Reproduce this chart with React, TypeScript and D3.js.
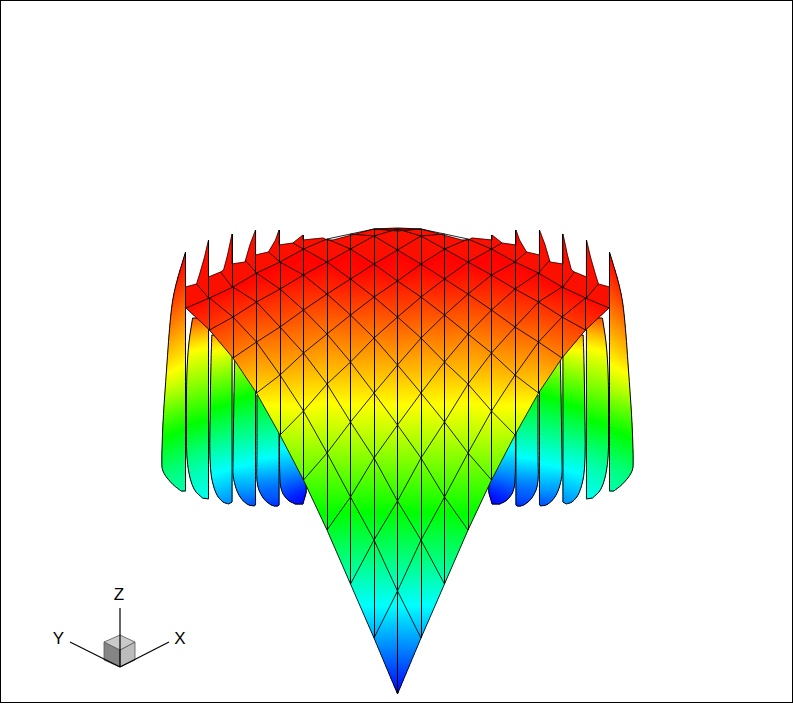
import React from "react";
import * as d3 from "d3";

// Surface heights, one list per lattice column (distance from the centre column), front to back
const heightColumns: number[][] = [
  [0, 103, 193, 269, 329, 377, 413, 444, 465, 463],
  [56, 154, 236, 301, 356, 397, 430, 458, 465],
  [110, 197, 272, 332, 379, 415, 445, 460],
  [164, 241, 310, 360, 400, 432, 455],
  [214, 283, 341, 384, 419, 445],
  [259, 319, 367, 405, 432],
  [301, 352, 392, 421],
  [336, 377, 407],
  [364, 396],
  [386],
];
// Contour variable at the same lattice points
const valueColumns: number[][] = [
  [0, 0.29, 0.53, 0.71, 0.83, 0.92, 0.98, 1, 1, 1],
  [0.16, 0.43, 0.63, 0.775, 0.875, 0.95, 1, 1, 1],
  [0.31, 0.54, 0.715, 0.835, 0.92, 0.985, 1, 1],
  [0.46, 0.64, 0.79, 0.88, 0.955, 1, 1],
  [0.58, 0.74, 0.855, 0.93, 0.99, 1],
  [0.68, 0.82, 0.91, 0.975, 1],
  [0.78, 0.885, 0.96, 1],
  [0.87, 0.945, 0.995],
  [0.94, 0.99],
  [0.99],
];
// Fins below the rim: [uLeft, hLeft, uRight, hRight, vLeft, vRight], top to bottom
const fin0 = [
  [-9.02, 442, -9.02, 442, 1, 1], [-9.51, 404, -9.02, 404, 0.96, 0.93], [-9.68, 374, -9.02, 374, 0.89, 0.86],
  [-9.85, 317, -9.02, 317, 0.75, 0.72], [-9.98, 274, -9.02, 274, 0.56, 0.53], [-10.04, 232, -9.02, 232, 0.42, 0.39],
  [-10.0, 222, -9.02, 222, 0.39, 0.36], [-9.6, 210, -9.02, 208, 0.36, 0.34], [-9.21, 203, -9.02, 203, 0.33, 0.33],
];
const fin1 = [
  [-8.72, 376, -8.04, 376, 0.92, 0.9], [-8.9, 349, -8.04, 349, 0.77, 0.75], [-8.98, 314, -8.04, 314, 0.66, 0.64],
  [-8.98, 274, -8.04, 274, 0.52, 0.5], [-8.98, 232, -8.04, 232, 0.36, 0.33], [-8.72, 205, -8.04, 205, 0.29, 0.28],
  [-8.3, 196, -8.04, 195, 0.27, 0.27],
];
const fin2 = [
  [-7.9, 359, -7.04, 359, 0.84, 0.82], [-7.93, 339, -7.04, 339, 0.73, 0.7], [-7.97, 291, -7.04, 291, 0.52, 0.5],
  [-8.0, 226, -7.04, 226, 0.27, 0.25], [-7.78, 202, -7.04, 202, 0.19, 0.17], [-7.47, 192, -7.04, 195, 0.15, 0.15],
  [-7.18, 190, -7.04, 192, 0.14, 0.14],
];
const fin3 = [
  [-6.92, 339, -6.04, 339, 0.72, 0.68], [-6.96, 301, -6.04, 301, 0.52, 0.5], [-7.0, 231, -6.04, 231, 0.27, 0.25],
  [-7.01, 217, -6.04, 217, 0.2, 0.2], [-6.79, 199, -6.04, 199, 0.13, 0.13], [-6.4, 189, -6.04, 194, 0.09, 0.09],
  [-6.08, 188, -6.04, 190, 0.08, 0.08],
];
const fin4 = [
  [-5.98, 299, -5.04, 299, 0.5, 0.47], [-5.98, 254, -5.04, 254, 0.33, 0.32], [-5.98, 237, -5.04, 237, 0.26, 0.25],
  [-6.0, 209, -5.04, 209, 0.12, 0.11], [-5.72, 195, -5.04, 195, 0.08, 0.08], [-5.34, 188, -5.04, 192, 0.05, 0.05],
  [-5.08, 188, -5.04, 189, 0.05, 0.05],
];
const fin5 = [
  [-5.02, 259, -4.02, 259, 0.31, 0.3], [-5.02, 239, -4.02, 239, 0.22, 0.22], [-5.02, 224, -4.02, 224, 0.16, 0.15],
  [-4.98, 204, -3.85, 204, 0.08, 0.03], [-4.7, 194, -3.95, 196, 0.03, 0.01], [-4.36, 190, -4.02, 190, 0.02, 0.01],
];
const fins = [fin0, fin1, fin2, fin3, fin4, fin5];

// Back rim silhouette, left half, outer corner to the centre: [u, h]
const rimOutline = [
  [-9.02, 386], [-9.02, 407], [-8.55, 410], [-8.43, 419], [-8.21, 437], [-8.04, 454], [-8.04, 417], [-7.53, 422],
  [-7.4, 424], [-7.23, 439], [-7.04, 460], [-7.04, 430], [-6.49, 432], [-6.28, 449], [-6.04, 464], [-6.04, 439],
  [-5.49, 442], [-5.19, 454], [-5.04, 464], [-5.04, 449], [-4.45, 451], [-4.02, 459], [-4.02, 454], [-3.17, 456],
  [-3.0, 454], [-2.74, 454], [-1.47, 462], [-1.0, 465], [0, 466],
];
const rimCentre = [0, 330];
// Creases from each valley of the rim to the back edge of the surface: [uA, hA, uB, hB]
const creases = [
  [-8.55, 410, -8.04, 396], [-7.53, 422, -7.04, 407], [-6.49, 434, -6.0, 421],
  [-5.49, 442, -5.0, 432], [-4.45, 451, -4.0, 445],
];
// Spikes, vertical edges from tip to the back edge: [u, hTip, hBase]
const spikes = [[-9.02, 442, 386], [-8.04, 454, 396], [-7.04, 460, 407], [-6.04, 464, 421], [-5.04, 464, 432], [-4.02, 459, 445]];

const rainbowStops = ["#0000ff", "#00ffff", "#00ff00", "#ffff00", "#ff0000"];
const rainbowDomain = [0, 0.25, 0.5, 0.75, 1];
const triadAxes = [
  { label: "Z", x2: 120, y2: 608, tx: 119, ty: 600 },
  { label: "Y", x2: 70, y2: 642, tx: 58.5, ty: 644 },
  { label: "X", x2: 169, y2: 642, tx: 180, ty: 644 },
];

const W = 793, H = 704;
const xScale = d3.scaleLinear().domain([0, 1]).range([397.5, 421]);
const yScale = d3.scaleLinear().domain([0, 694]).range([694, 0]);
const colour = d3.scaleLinear<string>().domain(rainbowDomain).range(rainbowStops).interpolate(d3.interpolateRgb as any);
const BANDS = 255;

type P = { x: number; y: number; v: number };
const pt = (u: number, h: number, v: number): P => ({ x: xScale(u), y: yScale(h), v });

// Rounds the fin profiles (corner cutting), the way a curve generator would; the ends stay put.
function rounded(rows: number[][], passes = 2): number[][] {
  let cur = rows;
  for (let p = 0; p < passes; p++) {
    const next: number[][] = [cur[0]];
    d3.pairs(cur).forEach(([a, b]) => {
      next.push(a.map((v, i) => v * 0.75 + b[i] * 0.25));
      next.push(a.map((v, i) => v * 0.25 + b[i] * 0.75));
    });
    next.push(cur[cur.length - 1]);
    cur = next;
  }
  return cur;
}

function clipBand(tri: P[], lo: number, hi: number): P[] {
  const clip = (poly: P[], limit: number, keepAbove: boolean) => {
    const out: P[] = [];
    for (let i = 0; i < poly.length; i++) {
      const a = poly[i], b = poly[(i + 1) % poly.length];
      const aIn = keepAbove ? a.v >= limit : a.v <= limit;
      const bIn = keepAbove ? b.v >= limit : b.v <= limit;
      if (aIn) out.push(a);
      if (aIn !== bIn) {
        const t = (limit - a.v) / (b.v - a.v);
        out.push({ x: a.x + (b.x - a.x) * t, y: a.y + (b.y - a.y) * t, v: limit });
      }
    }
    return out;
  };
  const first = clip(tri, lo, true);
  return first.length ? clip(first, hi, false) : [];
}

function bandPaths(tris: P[][]): { d: string; fill: string }[] {
  const buckets: string[][] = d3.range(BANDS).map(() => []);
  tris.forEach((tri) => {
    const ext = d3.extent(tri, (p) => p.v) as [number, number];
    const b0 = Math.max(0, Math.floor(ext[0] * BANDS));
    const b1 = Math.min(BANDS - 1, Math.floor(ext[1] * BANDS));
    for (let b = b0; b <= b1; b++) {
      const poly = clipBand(tri, b / BANDS, (b + 1) / BANDS);
      if (poly.length >= 3) {
        buckets[b].push("M" + poly.map((p) => `${p.x.toFixed(2)},${p.y.toFixed(2)}`).join("L") + "Z");
      }
    }
  });
  return buckets
    .map((parts, b) => ({ d: parts.join(""), fill: colour((b + 0.5) / BANDS) }))
    .filter((s) => s.d);
}

function vertex(i: number, j: number): P {
  const k = Math.abs(i - j), m = Math.min(i, j);
  return pt(i - j, heightColumns[k][m], valueColumns[k][m]);
}

const N = heightColumns.length;
const surfaceTris: P[][] = [];
const meshEdges: [P, P][] = [];
const verticals: [P, P][] = [];
d3.range(N).forEach((i) =>
  d3.range(N).forEach((j) => {
    if (i + 1 < N) meshEdges.push([vertex(i, j), vertex(i + 1, j)]);
    if (j + 1 < N) meshEdges.push([vertex(i, j), vertex(i, j + 1)]);
    if (i + 1 < N && j + 1 < N) {
      const a = vertex(i, j), b = vertex(i + 1, j), c = vertex(i + 1, j + 1), e = vertex(i, j + 1);
      surfaceTris.push([a, b, c], [a, c, e]);
      verticals.push([a, c]);
    }
  })
);

function finTris(fin: number[][], side: number): P[][] {
  const out: P[][] = [];
  d3.pairs(rounded(fin)).forEach(([s, t]) => {
    const a = pt(side * s[0], s[1], s[4]), b = pt(side * s[2], s[3], s[5]);
    const c = pt(side * t[2], t[3], t[5]), e = pt(side * t[0], t[1], t[4]);
    out.push([a, b, c], [a, c, e]);
  });
  return out;
}
const finOutline = (fin: number[][], side: number) => {
  const rows = rounded(fin);
  const left = rows.map((s) => [xScale(side * s[0]), yScale(s[1])] as [number, number]);
  const right = rows.map((s) => [xScale(side * s[2]), yScale(s[3])] as [number, number]).reverse();
  return d3.line()([...left, ...right]) + "Z";
};

const rimPts = (side: number) =>
  rimOutline.map((r) => [xScale(side * r[0]), yScale(r[1])] as [number, number]);
const rimLine = d3.line();

const Layer = ({ tris }: { tris: P[][] }) => (
  <g shapeRendering="crispEdges">
    {bandPaths(tris).map((s, i) => (
      <path key={i} d={s.d} fill={s.fill} stroke={s.fill} strokeWidth={0.5} />
    ))}
  </g>
);

export default function App() {
  const sides = [1, -1]; // +1 keeps the left half, -1 mirrors it
  return (
    <svg
      width={W}
      height={H}
      viewBox={`0 0 ${W} ${H}`}
      style={{ position: "absolute", left: 0, top: 0, display: "block", background: "#fff" }}
    >
      <rect x={0.5} y={0.5} width={W - 1} height={H - 2} fill="#fff" stroke="#000" strokeWidth={1} />
      {sides.map((side) => (
        <g key={side}>
          {fins.map((fin, i) => (
            <g key={i}>
              <Layer tris={finTris(fin, side)} />
              <path d={finOutline(fin, side)} fill="none" stroke="#000" strokeWidth={1} strokeLinejoin="round" />
            </g>
          ))}
        </g>
      ))}
      {sides.map((side) => (
        <g key={side}>
          <path
            d={rimLine([...rimPts(side), [xScale(rimCentre[0]), yScale(rimCentre[1])]]) + "Z"}
            fill="#fb1000"
            stroke="#fb1000"
            strokeWidth={0.5}
          />
          <path d={rimLine(rimPts(side)) as string} fill="none" stroke="#300" strokeWidth={0.8} />
        </g>
      ))}
      <Layer tris={surfaceTris} />
      {sides.map((side) => (
        <g key={side} fill="none" stroke="#000">
          {creases.map((c, i) => (
            <path key={i} strokeWidth={0.8} d={rimLine([[xScale(side * c[0]), yScale(c[1])], [xScale(side * c[2]), yScale(c[3])]]) as string} />
          ))}
          {spikes.map((s, i) => (
            <line key={i} x1={xScale(side * s[0])} x2={xScale(side * s[0])} y1={yScale(s[1])} y2={yScale(s[2])} strokeWidth={1} shapeRendering="crispEdges" />
          ))}
        </g>
      ))}
      <g stroke="#000" fill="none">
        {meshEdges.map(([a, b], i) => (
          <line key={i} x1={a.x} y1={a.y} x2={b.x} y2={b.y} strokeWidth={0.85} />
        ))}
        {verticals.map(([a, b], i) => (
          <line key={i} x1={a.x} y1={a.y} x2={b.x} y2={b.y} strokeWidth={1} shapeRendering="crispEdges" />
        ))}
      </g>
      {/* Orientation triad */}
      <g>
        <path d="M104,660L120,667L120,650L104,642Z" fill="#858585" stroke="#555" strokeWidth={0.8} />
        <path d="M135,660L120,667L120,650L135,642Z" fill="#bcbcbc" stroke="#555" strokeWidth={0.8} />
        <path d="M104,642L120,635L135,642L120,650Z" fill="#cacaca" stroke="#555" strokeWidth={0.8} />
        {triadAxes.map((a) => (
          <g key={a.label}>
            <line x1={120} y1={667} x2={a.x2} y2={a.y2} stroke="#000" strokeWidth={1.2} />
            <text x={a.tx} y={a.ty} textAnchor="middle" fontFamily="'Liberation Sans', Arial, sans-serif" fontSize={17} fill="#000">
              {a.label}
            </text>
          </g>
        ))}
      </g>
    </svg>
  );
}
